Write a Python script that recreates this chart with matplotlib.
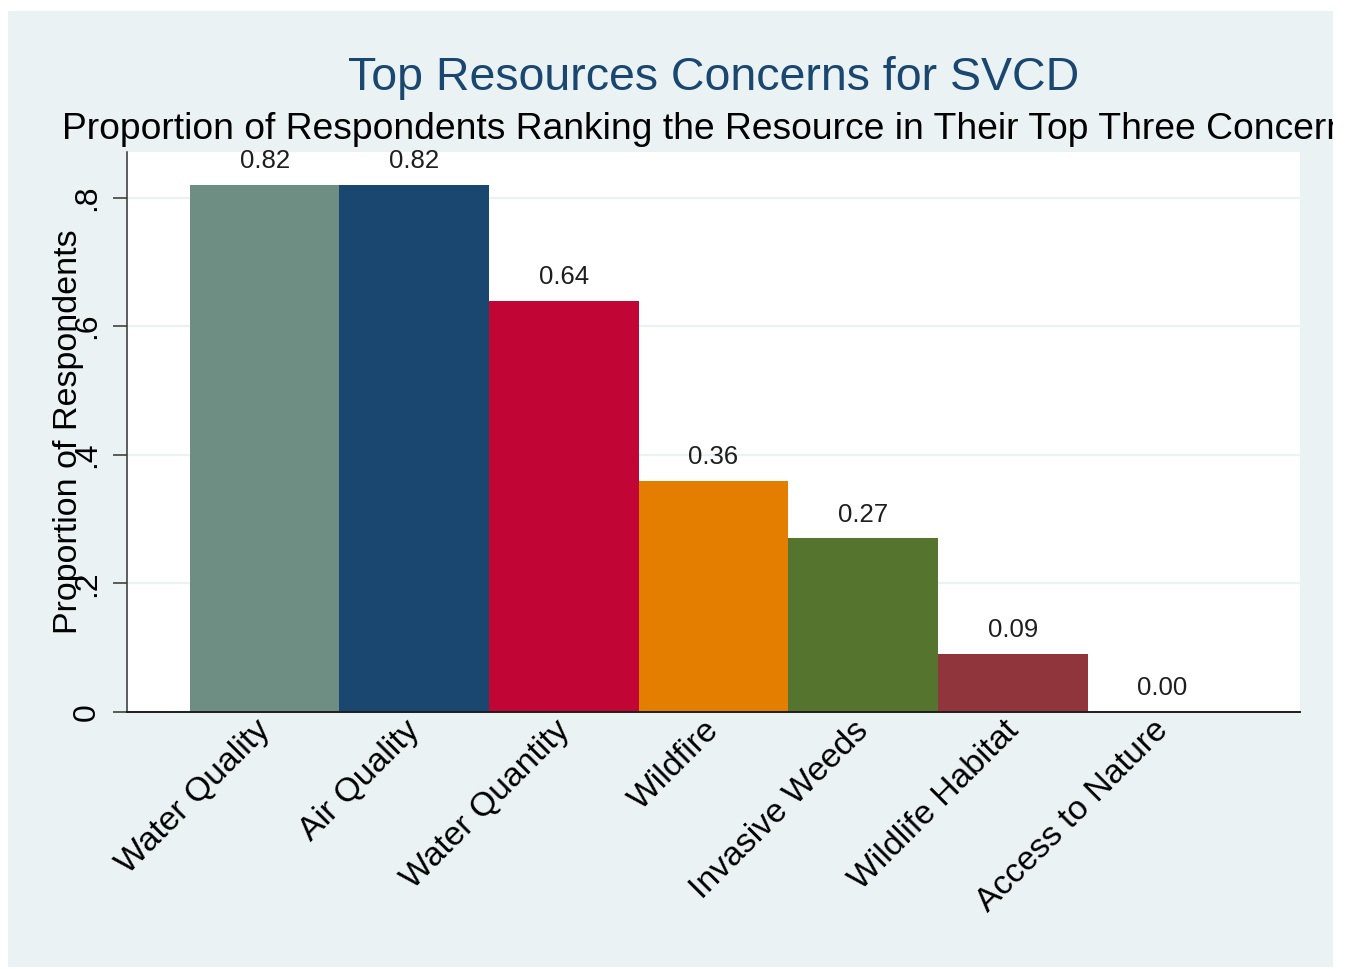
import matplotlib.pyplot as plt
from matplotlib.patches import Rectangle
from matplotlib.transforms import ScaledTranslation

# ------------------------------------
# Data
# ------------------------------------
resources = ['Water Quality', 'Air Quality', 'Water Quantity', 'Wildfire',
             'Invasive Weeds', 'Wildlife Habitat', 'Access to Nature']
proportions = [0.82, 0.82, 0.64, 0.36, 0.27, 0.09, 0.00]
yticks = [0, 0.2, 0.4, 0.6, 0.8]
ytick_labels = ['0', '.2', '.4', '.6', '.8']

# Stata s2color palette
colors = ['#6e8e84', '#1a476f', '#c10534', '#e37e00', '#55752f', '#90353b', '#938dd2']
region_color = '#eaf2f3'

plt.rcParams['font.family'] = ['Liberation Sans', 'DejaVu Sans']

W, H = 1350, 969
fig = plt.figure(figsize=(W / 100, H / 100), dpi=100, facecolor='white')

# graph region (light blue panel), kept behind the axes
panel = Rectangle((8 / W, 1 - 967 / H), (1333 - 8) / W, (967 - 11) / H,
                  transform=fig.transFigure, facecolor=region_color,
                  edgecolor='none', zorder=-1)
fig.patches.append(panel)

ax = fig.add_axes([127 / W, 1 - 712 / H, (1300 - 127) / W, (712 - 152) / H])
ax.set_facecolor('white')

xs = list(range(len(resources)))
ax.bar(xs, proportions, width=1.0, color=colors[:len(resources)], zorder=2)

# value labels on top of the bars
for x, v in zip(xs, proportions):
    ax.annotate('%.2f' % v, (x, v), xytext=(0, 12), textcoords='offset points',
                ha='center', va='baseline', fontsize=18.5, color='#1e1e1e')

ax.set_xlim(-0.92, 6.92)
ax.set_ylim(0, 0.871)

ax.set_yticks(yticks)
ax.set_yticklabels(ytick_labels, rotation=90, va='center', fontsize=23)
ax.set_xticks(xs)
ax.set_xticklabels(resources, rotation=45, ha='right', va='top', fontsize=24.3)

ax.tick_params(axis='x', length=0, pad=2)
ax.tick_params(axis='y', length=10, width=1.1, color='#333333', pad=8)

# nudge the slanted category labels so their ends sit just right of the bar centres
shift = ScaledTranslation(12 / 100, 0, fig.dpi_scale_trans)
for lab in ax.get_xticklabels():
    lab.set_transform(lab.get_transform() + shift)

ax.yaxis.grid(True, color=region_color, linewidth=1.6, zorder=1)
ax.set_axisbelow(True)

for side in ['top', 'right']:
    ax.spines[side].set_visible(False)
ax.spines['left'].set_color('#333333')
ax.spines['left'].set_linewidth(1.1)
ax.spines['bottom'].set_color('#1e1e1e')
ax.spines['bottom'].set_linewidth(1.4)

ax.set_ylabel('Proportion of Respondents', fontsize=24.5, va='center')
ax.yaxis.set_label_coords(-0.050, 0.5)

# titles, centered over the plot region
cx = (127 + 1300) / 2 / W
fig.text(cx, 1 - 90.5 / H, 'Top Resources Concerns for SVCD', ha='center',
         va='baseline', fontsize=33.5, color='#1a476f')
sub = fig.text(cx, 1 - 139 / H,
               'Proportion of Respondents Ranking the Resource in Their Top Three Concerns',
               ha='center', va='baseline', fontsize=26.8, color='black')
sub.set_clip_path(panel)

fig.savefig('out.png', dpi=100, facecolor='white')
